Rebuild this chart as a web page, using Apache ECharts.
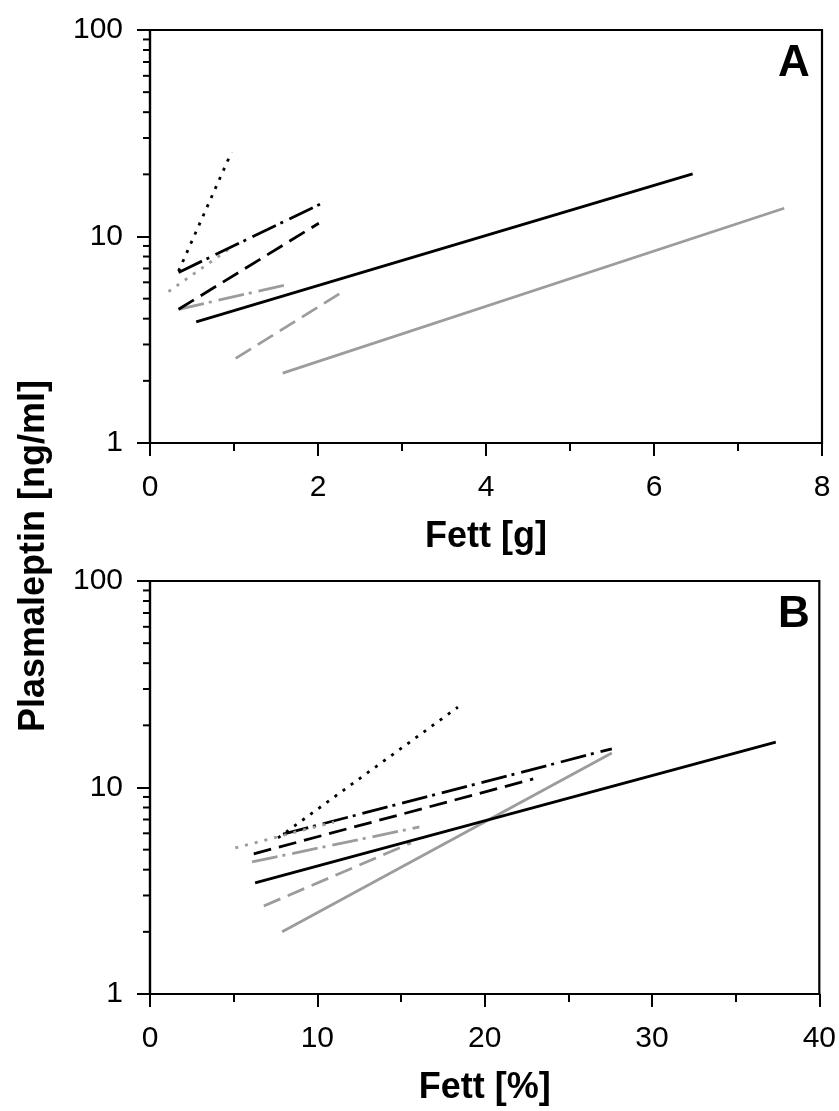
<!DOCTYPE html>
<html>
<head>
<meta charset="utf-8">
<script src="https://cdn.jsdelivr.net/npm/echarts@6/dist/echarts.min.js"></script>
<style>
  html, body { margin: 0; padding: 0; background: #fff; }
  #chart { width: 839px; height: 1111px; }
</style>
</head>
<body>
<div id="chart"></div>
<script>
// Panel A: Fett [g]
const blackSolidA = [[0.55, 3.86], [6.46, 20.1]];
const graySolidA = [[1.58, 2.18], [7.55, 13.7]];
const blackDotA = [[0.34, 6.8], [0.97, 25.6]];
const grayDotA = [[0.22, 5.41], [0.98, 8.93]];
const blackDashA = [[0.34, 4.44], [2.01, 11.6]];
const grayDashA = [[1.02, 2.57], [2.31, 5.45]];
const blackDashDotA = [[0.34, 6.7], [2.08, 14.7]];
const grayDashDotA = [[0.34, 4.44], [1.63, 5.85]];

// Panel B: Fett [%]
const blackSolidB = [[6.28, 3.45], [37.4, 16.6]];
const graySolidB = [[7.9, 2.0], [27.6, 14.7]];
const blackDotB = [[7.65, 5.7], [18.4, 24.5]];
const grayDotB = [[5.1, 5.1], [11.0, 6.8]];
const blackDashB = [[6.2, 4.77], [22.9, 11.0]];
const grayDashB = [[6.8, 2.67], [15.6, 5.39]];
const blackDashDotB = [[7.95, 5.95], [27.6, 15.4]];
const grayDashDotB = [[6.1, 4.36], [16.1, 6.44]];

// minor ticks of the log axis
const yMinorTicks = [2, 3, 4, 5, 6, 7, 8, 9, 20, 30, 40, 50, 60, 70, 80, 90];

const FONT = "'Liberation Sans', Arial, sans-serif";
const GRAY = '#9c9c9c';
const LW = 2.8;
const DOT = [3, 7];
const DASH = [18, 8];
const DASHDOT = [26, 5, 3, 7];

const chart = echarts.init(document.getElementById('chart'));

function xAxisCfg(gridIndex, max, interval, name) {
  return {
    type: 'value', gridIndex: gridIndex, min: 0, max: max, interval: interval,
    name: name, nameLocation: 'middle', nameGap: 76,
    nameTextStyle: { fontFamily: FONT, fontSize: 36, fontWeight: 'bold', color: '#000' },
    axisLine: { show: true, lineStyle: { color: '#000', width: 2.2 } },
    axisTick: { show: true, inside: false, length: 13, lineStyle: { color: '#000', width: 2 } },
    minorTick: { show: true, splitNumber: 2, length: 8, lineStyle: { color: '#000', width: 2 } },
    axisLabel: { fontFamily: FONT, fontSize: 30, color: '#000', margin: 30 },
    splitLine: { show: false }
  };
}

function yAxisCfg(gridIndex) {
  return {
    type: 'log', logBase: 10, gridIndex: gridIndex, min: 1, max: 100,
    axisLine: { show: true, lineStyle: { color: '#000', width: 2.2 } },
    axisTick: { show: true, inside: false, length: 13, lineStyle: { color: '#000', width: 2 } },
    axisLabel: { fontFamily: FONT, fontSize: 30, color: '#000', margin: 27 },
    splitLine: { show: false }
  };
}

function lineSeries(idx, data, color, type) {
  return {
    type: 'line', xAxisIndex: idx, yAxisIndex: idx, data: data,
    showSymbol: false, symbol: 'none', silent: true,
    lineStyle: { color: color, width: LW, type: type, cap: 'butt' }
  };
}

function minorTickSeries(idx) {
  return {
    type: 'custom', xAxisIndex: idx, yAxisIndex: idx, clip: false, silent: true,
    data: yMinorTicks.map(v => [0, v]),
    renderItem: function (params, api) {
      const p = api.coord([api.value(0), api.value(1)]);
      return {
        type: 'line',
        shape: { x1: p[0] - 7, y1: p[1], x2: p[0], y2: p[1] },
        style: { stroke: '#000', lineWidth: 2 }
      };
    }
  };
}

const option = {
  animation: false,
  backgroundColor: '#fff',
  grid: [
    { left: 150, top: 30, width: 672, height: 413, show: true, borderColor: '#000', borderWidth: 2.2 },
    { left: 150, top: 581, width: 672, height: 413, show: true, borderColor: '#000', borderWidth: 2.2 }
  ],
  xAxis: [
    xAxisCfg(0, 8, 2, 'Fett [g]'),
    xAxisCfg(1, 40, 10, 'Fett [%]')
  ],
  yAxis: [yAxisCfg(0), yAxisCfg(1)],
  graphic: [
    {
      type: 'text', x: 34, y: 556, rotation: Math.PI / 2,
      style: { text: 'Plasmaleptin [ng/ml]', fontFamily: FONT, fontSize: 36, fontWeight: 'bold',
        fill: '#000', textAlign: 'center', textVerticalAlign: 'middle' }
    },
    {
      type: 'text', x: 794, y: 64,
      style: { text: 'A', fontFamily: FONT, fontSize: 44, fontWeight: 'bold',
        fill: '#000', textAlign: 'center', textVerticalAlign: 'middle' }
    },
    {
      type: 'text', x: 794, y: 615,
      style: { text: 'B', fontFamily: FONT, fontSize: 44, fontWeight: 'bold',
        fill: '#000', textAlign: 'center', textVerticalAlign: 'middle' }
    }
  ],
  series: [
    minorTickSeries(0),
    minorTickSeries(1),
    lineSeries(0, graySolidA, GRAY, 'solid'),
    lineSeries(0, grayDotA, GRAY, DOT),
    lineSeries(0, grayDashA, GRAY, DASH),
    lineSeries(0, grayDashDotA, GRAY, DASHDOT),
    lineSeries(0, blackSolidA, '#000', 'solid'),
    lineSeries(0, blackDotA, '#000', DOT),
    lineSeries(0, blackDashA, '#000', DASH),
    lineSeries(0, blackDashDotA, '#000', DASHDOT),
    lineSeries(1, graySolidB, GRAY, 'solid'),
    lineSeries(1, grayDashB, GRAY, DASH),
    lineSeries(1, grayDashDotB, GRAY, DASHDOT),
    lineSeries(1, blackSolidB, '#000', 'solid'),
    lineSeries(1, blackDotB, '#000', DOT),
    lineSeries(1, blackDashB, '#000', DASH),
    lineSeries(1, blackDashDotB, '#000', DASHDOT),
    lineSeries(1, grayDotB, GRAY, DOT)
  ]
};

chart.setOption(option);
</script>
</body>
</html>
